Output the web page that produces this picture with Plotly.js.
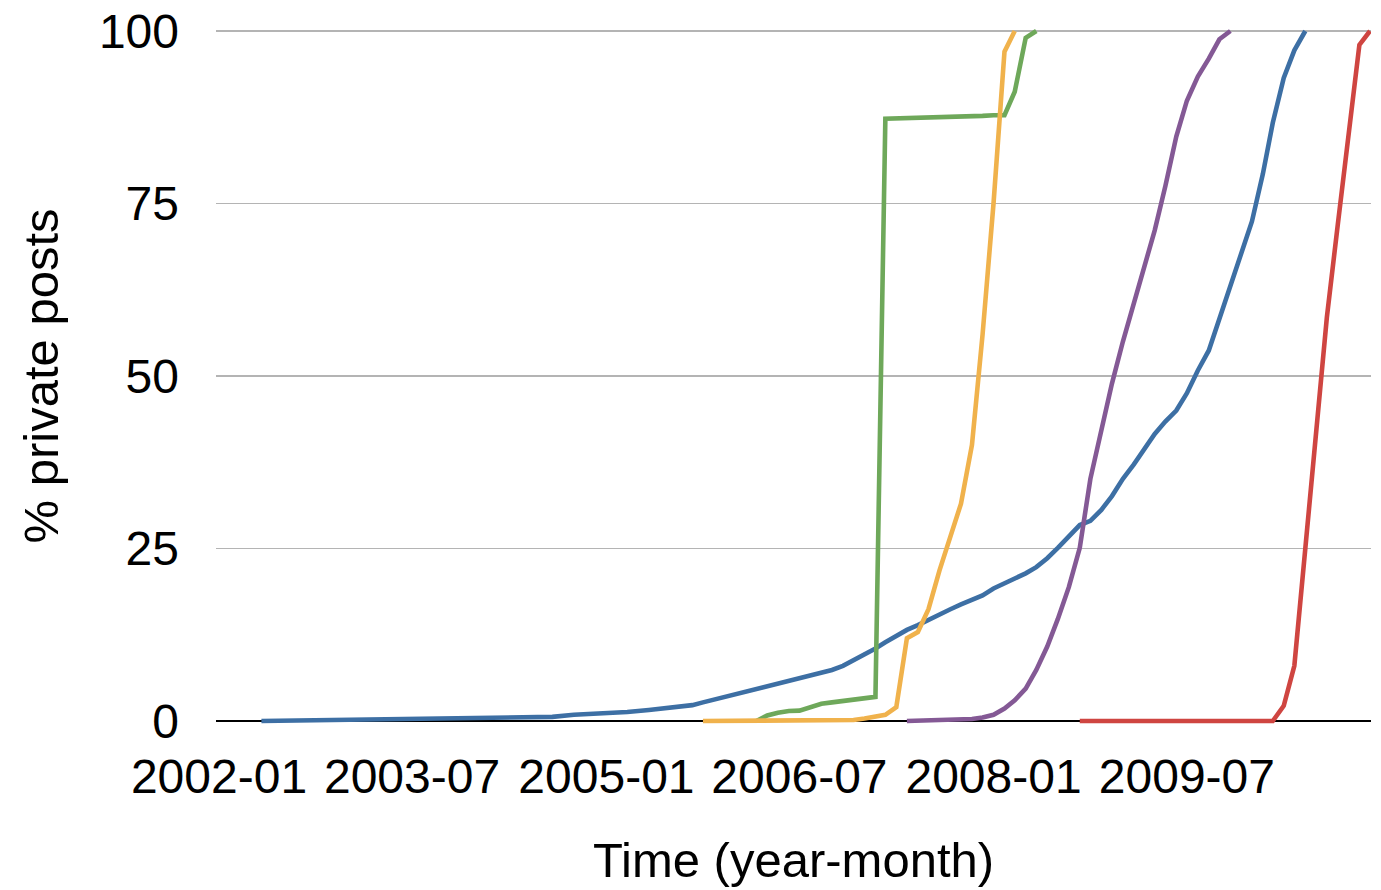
<!DOCTYPE html>
<html>
<head>
<meta charset="utf-8">
<script src="https://cdn.plot.ly/plotly-3.0.1.min.js"></script>
<style>html,body{margin:0;padding:0;background:#fff;}#chart{width:1381px;height:890px;}</style>
</head>
<body>
<div id="chart"></div>
<script>
// ---- data ----
const tickDates  = ['2002-01-01','2003-07-01','2005-01-01','2006-07-01','2008-01-01','2009-07-01'];
const tickLabels = ['2002-01','2003-07','2005-01','2006-07','2008-01','2009-07'];
const yTicks = [0, 25, 50, 75, 100];

const blueX = ['2002-05','2003-01','2003-09','2004-05','2004-08','2004-10','2005-01','2005-03','2005-05','2005-07',
  '2005-09','2005-10','2005-11','2005-12','2006-01','2006-02','2006-03','2006-04','2006-05','2006-06',
  '2006-07','2006-08','2006-09','2006-10','2006-11','2006-12','2007-01','2007-02','2007-03','2007-04',
  '2007-05','2007-06','2007-07','2007-08','2007-09','2007-10','2007-11','2007-12','2008-01','2008-02',
  '2008-03','2008-04','2008-05','2008-06','2008-07','2008-08','2008-09','2008-10','2008-11','2008-12',
  '2009-01','2009-02','2009-03','2009-04','2009-05','2009-06','2009-07','2009-08','2009-09','2009-10',
  '2009-11','2009-12','2010-01','2010-02','2010-03','2010-04','2010-05','2010-06'];
const blueY = [0, 0.15, 0.3, 0.45, 0.6, 0.9, 1.1, 1.3, 1.6, 1.95,
  2.3, 2.7, 3.1, 3.5, 3.9, 4.2, 4.5, 5.0, 5.4, 5.8,
  6.1, 6.5, 7.0, 7.4, 8.0, 8.8, 9.6, 10.5, 11.4, 12.4,
  13.2, 13.9, 14.7, 15.5, 16.2, 16.9, 17.6, 18.2, 19.2, 19.9,
  20.6, 21.4, 22.3, 23.6, 25.1, 26.8, 28.4, 29.0, 30.6, 32.6,
  35.1, 37.2, 39.4, 41.6, 43.4, 45.0, 47.5, 50.8, 53.7, 58.3,
  63.0, 67.3, 72.4, 79.3, 86.7, 93.2, 97.2, 100];

const greenX = ['2006-03','2006-04','2006-05','2006-06','2006-07','2006-08','2006-09','2006-10','2006-11','2006-12',
  '2007-01','2007-02','2007-03','2007-06','2007-09','2007-12','2008-01','2008-02','2008-03','2008-04','2008-05'];
const greenY = [0, 0.8, 1.2, 1.45, 1.5, 2.0, 2.5, 2.7, 2.9, 3.0,
  3.2, 3.5, 87.3, 87.4, 87.5, 87.7, 87.8, 87.8, 91.2, 99.0, 100];

const orangeX = ['2005-10','2006-10','2006-11','2006-12','2007-01','2007-02','2007-03','2007-04','2007-05','2007-06',
  '2007-07','2007-08','2007-09','2007-10','2007-11','2007-12','2008-01','2008-02','2008-03'];
const orangeY = [0, 0, 0.05, 0.15, 0.35, 0.6, 0.9, 2.0, 12.0, 12.9,
  16.2, 21.8, 27.0, 31.5, 40.0, 56.0, 75.0, 97.0, 100];

const purpleX = ['2007-05','2007-07','2007-09','2007-11','2007-12','2008-01','2008-02','2008-03','2008-04','2008-05',
  '2008-06','2008-07','2008-08','2008-09','2008-10','2008-11','2008-12','2009-01','2009-02','2009-03',
  '2009-04','2009-05','2009-06','2009-07','2009-08','2009-09','2009-10','2009-11'];
const purpleY = [0, 0.05, 0.1, 0.3, 0.5, 0.9, 1.8, 3.0, 4.7, 7.4,
  10.8, 14.8, 19.4, 25.1, 35.1, 42.5, 48.9, 55.0, 60.6, 65.6,
  71.1, 77.5, 84.7, 89.9, 93.4, 96.0, 98.8, 100];

const redX = ['2008-09','2009-06','2010-03','2010-04','2010-05','2010-06','2010-07','2010-08','2010-09','2010-10','2010-11','2010-12'];
const redY = [0, 0, 0, 2.2, 8.0, 25.0, 42.0, 58.5, 72.0, 85.0, 98.0, 100];

const seriesColors = {blue:'#3d6fa4', green:'#6ea85a', orange:'#f0b24c', purple:'#845995', red:'#cf4541'};

// ---- chart ----
function line(x, y, color) {
  return {x: x, y: y, type: 'scatter', mode: 'lines', hoverinfo: 'x+y',
          line: {color: color, width: 4.6, shape: 'linear'}, showlegend: false};
}
const traces = [
  line(blueX, blueY, seriesColors.blue),
  line(greenX, greenY, seriesColors.green),
  line(orangeX, orangeY, seriesColors.orange),
  line(purpleX, purpleY, seriesColors.purple),
  line(redX, redY, seriesColors.red)
];

const font = {family: '"Liberation Sans", Arial, sans-serif', color: '#000'};
const layout = {
  width: 1381, height: 890,
  margin: {l: 216, r: 10, t: 28, b: 166, pad: 0},
  paper_bgcolor: '#fff', plot_bgcolor: '#fff',
  showlegend: false,
  xaxis: {
    type: 'date',
    range: ['2001-12-23 12:00', '2010-12-03 20:00'],
    tickmode: 'array', tickvals: tickDates, ticktext: tickLabels,
    showgrid: false, zeroline: false, showline: false, ticks: '',
    ticklabelstandoff: 20,
    tickfont: Object.assign({size: 48}, font),
    title: {text: 'Time (year-month)', font: Object.assign({size: 49}, font), standoff: 40},
    automargin: false
  },
  yaxis: {
    range: [-0.435, 100.435],
    tickmode: 'array', tickvals: yTicks, ticktext: yTicks.map(String),
    showgrid: true, gridcolor: '#b4b4b4', gridwidth: 1.3,
    zeroline: true, zerolinecolor: '#000', zerolinewidth: 1.6,
    showline: false, ticks: '',
    ticklabelstandoff: 36,
    tickfont: Object.assign({size: 48}, font),
    title: {text: '% private posts', font: Object.assign({size: 49}, font), standoff: 24},
    automargin: false
  }
};
Plotly.newPlot('chart', traces, layout, {displayModeBar: false, staticPlot: true});
</script>
</body>
</html>
